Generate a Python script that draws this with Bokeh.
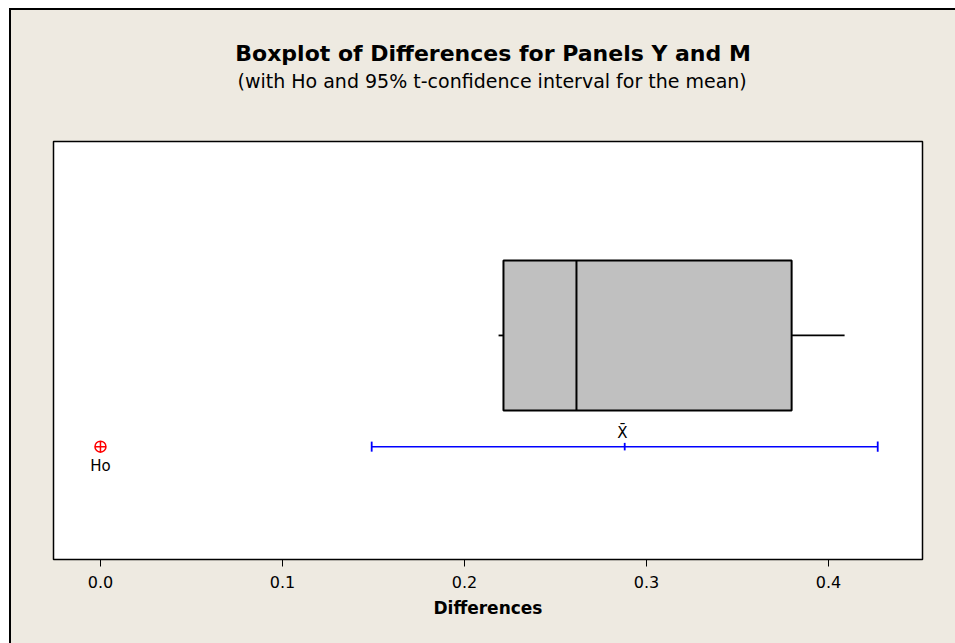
from bokeh.plotting import figure
from bokeh.layouts import column
from bokeh.models import FixedTicker, Range1d
from bokeh.core.properties import value
from bokeh.embed import file_html
from bokeh.resources import INLINE

# Boxplot summary of the paired differences
whisker_low = 0.2187
q1 = 0.2214
median = 0.2615
q3 = 0.3797
whisker_high = 0.4088

# Mean with its 95% t-confidence interval, and the null hypothesis value
mean_diff = 0.288
ci_low = 0.149
ci_high = 0.427
h0 = 0.0

tick_values = [0.0, 0.1, 0.2, 0.3, 0.4]
tick_labels = ["0.0", "0.1", "0.2", "0.3", "0.4"]

title_text = "Boxplot of Differences for Panels Y and M"
subtitle_text = "(with Ho and 95% t-confidence interval for the mean)"

FONT = "DejaVu Sans"
BG = "#EEEAE1"

# vertical placement of the box row and the interval row (0..1 frame units)
box_y = 0.536
box_h = 0.359
ci_y = 0.270

W = 944
HEAD_H = 130
BODY_H = 503
MB_LEFT, MB_RIGHT = 42, 33

# header strip holding the title and subtitle (pixel coordinates)
head = figure(width=W, height=HEAD_H, x_range=Range1d(0, W), y_range=Range1d(0, HEAD_H),
              output_backend="svg", toolbar_location=None, min_border=0,
              background_fill_color=BG, border_fill_color=BG, outline_line_color=None)
head.axis.visible = False
head.grid.visible = False
center_x = MB_LEFT + (W - MB_LEFT - MB_RIGHT) / 2
head.text(x=[center_x + 1], y=[HEAD_H - 43], text=[title_text], text_align="center",
          text_baseline="middle", text_font=value(FONT), text_font_size="22px",
          text_font_style="bold", text_color="black")
head.text(x=[center_x], y=[HEAD_H - 70], text=[subtitle_text], text_align="center",
          text_baseline="middle", text_font=value(FONT), text_font_size="19px",
          text_color="black")

p = figure(
    width=W, height=BODY_H,
    x_range=Range1d(-0.0258, 0.4516), y_range=Range1d(0, 1),
    output_backend="svg", toolbar_location=None,
    min_border_left=MB_LEFT, min_border_right=MB_RIGHT, min_border_bottom=84, min_border_top=1,
    background_fill_color="white", border_fill_color=BG,
    outline_line_color="black", outline_line_width=1.5,
)
p.title = None
p.grid.visible = False
p.yaxis.visible = False

ax = p.xaxis[0]
ax.ticker = FixedTicker(ticks=tick_values)
ax.major_label_overrides = {v: s for v, s in zip(tick_values, tick_labels)}
ax.minor_tick_line_color = None
ax.axis_line_color = None
ax.major_tick_out = 7
ax.major_tick_in = 0
ax.major_tick_line_color = "black"
ax.major_label_text_font = FONT
ax.major_label_text_font_size = "16px"
ax.major_label_text_color = "black"
ax.major_label_standoff = 9
ax.axis_label = "Differences"
ax.axis_label_text_font = FONT
ax.axis_label_text_font_size = "17px"
ax.axis_label_text_font_style = "bold"
ax.axis_label_text_color = "black"
ax.axis_label_standoff = 7

# whiskers
p.segment(x0=[whisker_low, q3], y0=[box_y, box_y], x1=[q1, whisker_high], y1=[box_y, box_y],
          line_color="black", line_width=1.8)
# box
p.quad(left=[q1], right=[q3], bottom=[box_y - box_h / 2], top=[box_y + box_h / 2],
       fill_color="#C0C0C0", line_color="black", line_width=2)
# median
p.segment(x0=[median], y0=[box_y - box_h / 2], x1=[median], y1=[box_y + box_h / 2],
          line_color="black", line_width=2)

# confidence interval
p.segment(x0=[ci_low], y0=[ci_y], x1=[ci_high], y1=[ci_y], line_color="blue", line_width=1.5)
cap = 0.012
p.segment(x0=[ci_low, ci_high], y0=[ci_y - cap] * 2, x1=[ci_low, ci_high], y1=[ci_y + cap] * 2,
          line_color="blue", line_width=1.8)
p.segment(x0=[mean_diff], y0=[ci_y - 0.009], x1=[mean_diff], y1=[ci_y + 0.009],
          line_color="blue", line_width=1.8)
p.text(x=[mean_diff - 0.0013], y=[ci_y + 0.012], text=["X\u0304"], text_align="center",
       text_baseline="bottom", text_font=value(FONT), text_font_size="15px", text_color="black")

# null hypothesis marker
p.scatter(x=[h0], y=[ci_y], marker="circle_cross", size=11, line_color="red",
          fill_color=None, line_width=1.5)
p.text(x=[h0], y=[ci_y - 0.024], text=["Ho"], text_align="center", text_baseline="top",
       text_font=value(FONT), text_font_size="15px", text_color="black")

layout = column(head, p, spacing=0)
layout.styles = {"margin-left": "9px", "margin-top": "8px", "background-color": BG,
                 "border-left": "2px solid black", "border-top": "2px solid black"}

open("out.html", "w").write(file_html(layout, INLINE))
